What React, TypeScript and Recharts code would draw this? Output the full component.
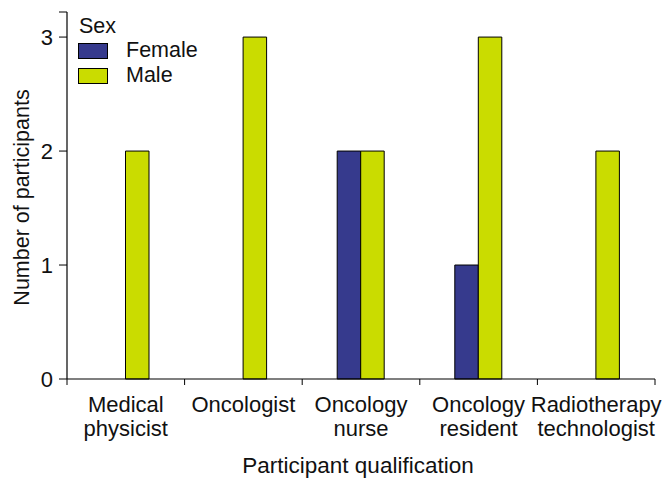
import React from "react";
import { BarChart, Bar, XAxis, YAxis } from "recharts";

const categories = ["Medical physicist", "Oncologist", "Oncology nurse", "Oncology resident", "Radiotherapy technologist"];
const tickLines = [["Medical", "physicist"], ["Oncologist"], ["Oncology", "nurse"], ["Oncology", "resident"], ["Radiotherapy", "technologist"]];
const female = [0, 0, 2, 1, 0];
const male = [2, 3, 2, 3, 2];
const yTicks = [0, 1, 2, 3, 3.22];
const legendItems = [
  { name: "Female", color: "#363a8d" },
  { name: "Male", color: "#cadc00" },
];

const W = 669;
const H = 490;
const M = { top: 12, right: 14, left: 0, bottom: 0 };
const Y_W = 67;
const PLOT_W = W - Y_W - M.right;
const FONT = "'Liberation Sans', Arial, Helvetica, sans-serif";

const data = categories.map((c, i) => ({ name: c, Female: female[i], Male: male[i] }));

const CatTick = (props: any) => {
  const { x, y, index } = props;
  const band = PLOT_W / categories.length;
  const lines = tickLines[index] || [];
  return (
    <g>
      <line x1={x - band / 2} x2={x - band / 2} y1={y} y2={y + 6} stroke="#000" />
      {index === categories.length - 1 && (
        <line x1={x + band / 2} x2={x + band / 2} y1={y} y2={y + 6} stroke="#000" />
      )}
      <text x={x} y={y + 33} textAnchor="middle" fontSize={22} fill="#111" fontFamily={FONT}>
        {lines.map((l, i) => (
          <tspan key={i} x={x} dy={i === 0 ? 0 : 24}>{l}</tspan>
        ))}
      </text>
    </g>
  );
};

// legend drawn as an overlay so it doesn't eat into the plot area
const LegendBox = () => (
  <div style={{ position: "absolute", left: 78, top: 14, width: 140, height: 80, fontFamily: FONT, fontSize: 21.5, color: "#111", lineHeight: "22px" }}>
    <div style={{ position: "absolute", left: 1, top: 0.5, whiteSpace: "nowrap" }}>Sex</div>
    {legendItems.map((it, i) => (
      <React.Fragment key={it.name}>
        <div style={{ position: "absolute", left: 0, top: 29 + i * 25, width: 28, height: 14, background: it.color, border: "1px solid #000" }} />
        <div style={{ position: "absolute", left: 48, top: 24.5 + i * 25, whiteSpace: "nowrap" }}>{it.name}</div>
      </React.Fragment>
    ))}
  </div>
);

export default function App() {
  return (
    <div style={{ position: "absolute", left: 0, top: 0, width: W, height: H, background: "#fff" }}>
      <BarChart width={W} height={H} data={data} margin={M} barGap={0} barSize={23.5} style={{ fontFamily: FONT }}>
        <XAxis
          dataKey="name"
          height={H - 379}
          interval={0}
          tickLine={false}
          tickSize={0}
          tickMargin={0}
          axisLine={{ stroke: "#000", strokeWidth: 1.2 }}
          tick={<CatTick />}
          label={{ value: "Participant qualification", position: "insideBottom", offset: 17, dx: -3, fontSize: 22.5, fill: "#111", fontFamily: FONT }}
        />
        <YAxis
          width={Y_W}
          domain={[0, 3.22]}
          ticks={yTicks}
          interval={0}
          tickSize={8}
          tickMargin={6}
          axisLine={{ stroke: "#000", strokeWidth: 1.2 }}
          tickLine={{ stroke: "#000" }}
          tick={{ fontSize: 22, fill: "#111", fontFamily: FONT }}
          tickFormatter={(v: number) => (v === 3.22 ? "" : String(v))}
          label={{ value: "Number of participants", angle: -90, position: "center", dx: -12, dy: 2, fontSize: 21.5, fill: "#111", fontFamily: FONT }}
        />
        <Bar dataKey="Female" fill={legendItems[0].color} stroke="#000" strokeWidth={1} isAnimationActive={false} />
        <Bar dataKey="Male" fill={legendItems[1].color} stroke="#000" strokeWidth={1} isAnimationActive={false} />
      </BarChart>
      <LegendBox />
    </div>
  );
}
